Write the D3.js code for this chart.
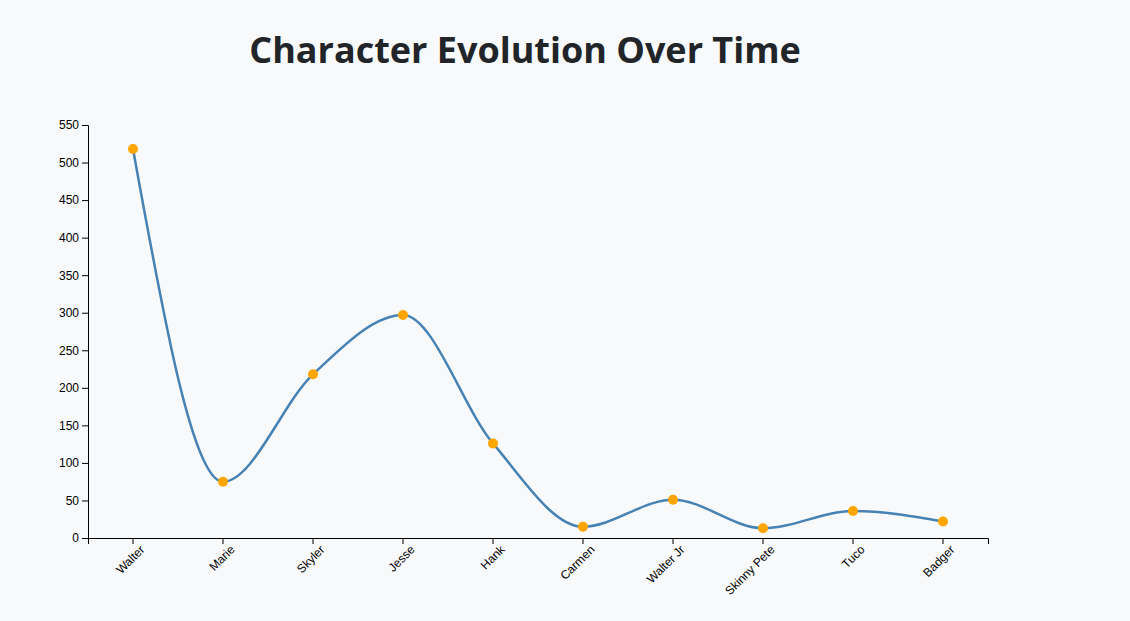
<!DOCTYPE html>
<html>
<head>
<meta charset="utf-8">
<script src="https://cdn.jsdelivr.net/npm/d3@7"></script>
<style>
  body { margin: 0; background: #f8f9fa; }
  svg { display: block; }
  .title { font-family: "Open Sans", "Noto Sans", sans-serif; font-weight: 700; fill: #212529; }
  .axis text { font-family: "Liberation Sans", Arial, sans-serif; font-size: 12px; fill: #000; }
</style>
</head>
<body>
<svg id="chart"></svg>
<script>
// data
const characters = ['Walter', 'Marie', 'Skyler', 'Jesse', 'Hank', 'Carmen', 'Walter Jr', 'Skinny Pete', 'Tuco', 'Badger']
const values = [518, 75, 218, 297, 126, 15, 51, 13, 36, 22]
const yTicks = [0, 50, 100, 150, 200, 250, 300, 350, 400, 450, 500, 550]

const W = 1130, H = 621
const margin = { top: 125, left: 88 }
const width = 900
const height = 413

const svg = d3.select('#chart').attr('width', W).attr('height', H)

svg.append('text')
  .attr('class', 'title')
  .attr('x', 525)
  .attr('y', 63)
  .attr('text-anchor', 'middle')
  .style('font-size', '36px')
  .text('Character Evolution Over Time')

const g = svg.append('g').attr('transform', `translate(${margin.left},${margin.top})`)

const x = d3.scaleBand().domain(characters).range([0, width])
const y = d3.scaleLinear().domain([0, 550]).range([height, 0])

const data = characters.map((name, i) => ({ name, value: values[i] }))

g.append('g')
  .attr('class', 'axis')
  .attr('transform', `translate(0,${height})`)
  .call(d3.axisBottom(x))
  .selectAll('text')
  .attr('transform', 'rotate(-45)')
  .style('text-anchor', 'end')

g.append('g')
  .attr('class', 'axis')
  .call(d3.axisLeft(y).tickValues(yTicks))

const line = d3.line()
  .x(d => x(d.name) + x.bandwidth() / 2)
  .y(d => y(d.value))
  .curve(d3.curveMonotoneX)

g.append('path')
  .datum(data)
  .attr('fill', 'none')
  .attr('stroke', 'steelblue')
  .attr('stroke-width', 2.5)
  .attr('d', line)

g.selectAll('circle.dot')
  .data(data)
  .enter().append('circle')
  .attr('class', 'dot')
  .attr('cx', d => x(d.name) + x.bandwidth() / 2)
  .attr('cy', d => y(d.value))
  .attr('r', 5)
  .attr('fill', 'orange')
</script>
</body>
</html>
